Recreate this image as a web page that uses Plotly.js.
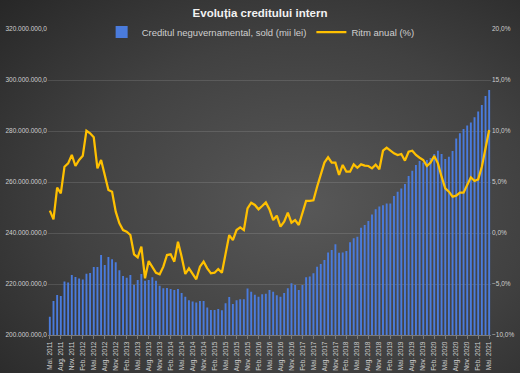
<!DOCTYPE html>
<html><head><meta charset="utf-8">
<script src="https://cdn.plot.ly/plotly-3.0.1.min.js"></script>
<style>
html,body{margin:0;padding:0;width:520px;height:373px;overflow:hidden;}
body{background: radial-gradient(ellipse 80% 80% at 58% 55%, #585858 0%, #414141 55%, #272727 100%);}
#chart{width:520px;height:373px;}
</style></head><body><div id="chart"></div>
<script>
const monthNames = ['Ian.','Feb.','Mar.','Apr.','Mai.','Iun.','Iul.','Aug.','Sep.','Oct.','Nov.','Dec.'];
const startYear = 2011, startMonthIndex = 4;

const credit = [
207.2,213.3,215.7,215.3,221.0,220.6,223.5,222.7,222.2,221.8,
224.0,224.3,226.7,226.7,231.4,227.5,230.6,229.7,228.5,225.4,
223.1,222.5,223.5,219.7,221.6,223.9,221.3,221.6,222.6,221.3,
219.3,218.3,218.4,218.0,217.6,218.0,216.5,215.0,213.6,213.1,
212.7,213.3,213.3,210.8,209.8,209.8,210.2,209.7,212.5,214.9,
212.2,213.6,214.0,214.0,218.2,217.0,215.8,215.0,216.0,216.2,
217.6,217.0,215.6,215.0,216.5,218.3,220.3,219.6,217.6,219.6,
222.6,222.9,224.2,226.8,227.8,229.4,232.4,233.3,235.6,232.3,
232.4,232.9,236.4,237.9,238.5,242.1,243.1,244.7,247.3,249.3,
250.4,250.9,251.6,251.6,254.5,256.2,257.5,259.2,262.4,264.4,
266.7,268.2,267.6,268.6,269.4,271.0,272.3,271.0,269.0,269.9,
272.2,277.1,279.1,280.8,282.2,283.3,285.4,287.6,290.2,293.7,
296.1
].map(v => v * 1e6);

const ritm = [
2.19,1.34,4.44,3.89,6.5,6.83,7.65,6.57,7.16,7.58,
10.03,9.77,9.38,6.34,7.16,5.69,4.22,4.05,2.09,0.95,
0.29,0.13,-0.2,-2.09,-2.38,-1.34,-4.44,-2.75,-3.3,-3.9,
-4.05,-3.3,-2.16,-2.09,-2.81,-0.85,-2.32,-4.02,-3.46,-3.95,
-4.54,-3.3,-2.81,-3.46,-3.95,-3.89,-3.53,-3.89,-1.99,-0.2,
-0.69,0.29,0.56,0.29,2.42,2.97,2.75,2.32,2.65,3.0,
2.3,1.27,1.7,0.62,1.11,1.99,1.01,1.27,0.78,1.99,
3.14,3.14,3.2,4.54,5.85,6.9,7.42,6.9,6.9,5.69,
6.67,6.01,6.01,6.73,6.4,6.73,6.6,6.57,6.34,6.7,
6.25,8.07,8.37,8.04,7.81,7.65,7.75,7.09,7.97,8.07,
7.65,7.38,7.16,6.57,6.9,7.55,6.83,5.52,4.38,4.05,
3.56,3.66,3.95,3.95,4.71,5.46,5.1,5.26,6.5,8.3,
10.1
];

const categories = credit.map((_, i) => {
  const k = startMonthIndex + i;
  return monthNames[k % 12] + ' ' + (startYear + Math.floor(k / 12));
});
const tickVals = categories.filter((_, i) => i % 3 === 0);

const txt = '#cfcfcf';
const fnt = '"Liberation Sans Narrow", "Liberation Sans", Arial, sans-serif';

const traces = [
  { type: 'bar', name: 'Creditul neguvernamental, sold (mii lei)', x: categories, y: credit,
    marker: { color: '#4a7bdc', line: { width: 0 } }, yaxis: 'y' },
  { type: 'scatter', mode: 'lines', name: 'Ritm anual (%)', x: categories, y: ritm,
    line: { color: '#ffc000', width: 2.25 }, yaxis: 'y2' }
];

const layout = {
  width: 520, height: 373,
  paper_bgcolor: 'rgba(0,0,0,0)', plot_bgcolor: 'rgba(0,0,0,0)',
  margin: { l: 48, r: 29, t: 29, b: 38 },
  separators: ',.',
  bargap: 0.48,
  showlegend: true,
  title: { text: '<b>Evoluția creditului intern</b>', x: 0.5, xanchor: 'center', y: 0.965, yanchor: 'middle',
    font: { family: fnt, size: 11.5, color: '#f2f2f2' } },
  legend: { orientation: 'h', x: 0.48, xanchor: 'center', y: 0.99, yanchor: 'middle',
    bgcolor: 'rgba(0,0,0,0)', font: { family: fnt, size: 9.5, color: txt }, itemwidth: 30, traceorder: 'normal' },
  xaxis: { type: 'category', range: [-0.5, categories.length - 0.5], tickmode: 'array', tickvals: tickVals, ticktext: tickVals,
    tickangle: -90, tickfont: { family: fnt, size: 6.5, color: txt }, showgrid: false,
    showline: true, linecolor: '#7a7a7a', linewidth: 1, ticks: 'outside', ticklen: 3, tickcolor: '#7a7a7a', zeroline: false },
  yaxis: { range: [200e6, 320e6], dtick: 20e6, tickformat: ',.1f', tickfont: { family: fnt, size: 6.5, color: txt },
    showgrid: true, gridcolor: 'rgba(255,255,255,0.12)', gridwidth: 1, zeroline: false, showline: false, ticks: '' },
  yaxis2: { overlaying: 'y', side: 'right', range: [-10, 20], dtick: 5, tickformat: '.1f', ticksuffix: '%',
    tickfont: { family: fnt, size: 6.5, color: txt }, showgrid: false, zeroline: false, showline: false, ticks: '' }
};

Plotly.newPlot('chart', traces, layout, { displayModeBar: false, staticPlot: true });
</script></body></html>
